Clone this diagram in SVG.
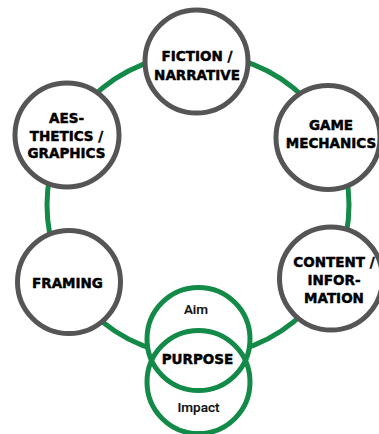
<svg xmlns="http://www.w3.org/2000/svg" width="379" height="434" viewBox="0 0 379 434">
  <style>
    .node { fill: #ffffff; stroke: #555555; stroke-width: 5; }
    .ring { fill: none; stroke: #138a48; stroke-width: 5; }
    .pfill { fill: #ffffff; stroke: none; }
    .pline { fill: none; stroke: #138a48; stroke-width: 5; }
    .lbl { font-family: "DejaVu Sans", "Liberation Sans", sans-serif; font-weight: bold; font-size: 13.5px; fill: #000000; stroke: #000000; stroke-width: 0.45px; text-anchor: middle; }
    .sub { font-family: Roboto, "Liberation Sans", sans-serif; font-weight: 500; font-size: 13.5px; fill: #111111; stroke: #111111; stroke-width: 0.2px; text-anchor: middle; }
  </style>
  <rect width="379" height="434" fill="#ffffff"/>

  <!-- connecting ring -->
  <g id="connectors">
    <circle class="ring" cx="198" cy="205" r="151"/>
  </g>

  <g id="fiction">
    <circle class="node" cx="196.5" cy="61.5" r="51.5"/>
    <text class="lbl" x="197" y="61">FICTION /</text>
    <text class="lbl" x="197" y="79.5">NARRATIVE</text>
  </g>

  <g id="mechanics">
    <circle class="node" cx="328" cy="137.5" r="52"/>
    <text class="lbl" x="331" y="130">GAME</text>
    <text class="lbl" x="331" y="148">MECHANICS</text>
  </g>

  <g id="aesthetics">
    <circle class="node" cx="67" cy="135" r="52"/>
    <text class="lbl" x="66.5" y="122.5">AES-</text>
    <text class="lbl" x="66.5" y="141">THETICS /</text>
    <text class="lbl" x="66.5" y="158">GRAPHICS</text>
  </g>

  <g id="framing">
    <circle class="node" cx="69" cy="282" r="51.5"/>
    <text class="lbl" x="67.5" y="288">FRAMING</text>
  </g>

  <g id="content">
    <circle class="node" cx="331" cy="278.5" r="51.5"/>
    <text class="lbl" x="334" y="267">CONTENT /</text>
    <text class="lbl" x="334" y="285">INFOR-</text>
    <text class="lbl" x="334" y="303">MATION</text>
  </g>

  <g id="purpose">
    <circle class="pfill" cx="198.5" cy="339" r="51.5"/>
    <circle class="pfill" cx="198.5" cy="382" r="51.5"/>
    <circle class="pline" cx="198.5" cy="339" r="51.5"/>
    <circle class="pline" cx="198.5" cy="382" r="51.5"/>
    <text class="sub" x="196" y="314">Aim</text>
    <text class="lbl" x="197.5" y="364">PURPOSE</text>
    <text class="sub" x="198.5" y="411.5">Impact</text>
  </g>
</svg>
